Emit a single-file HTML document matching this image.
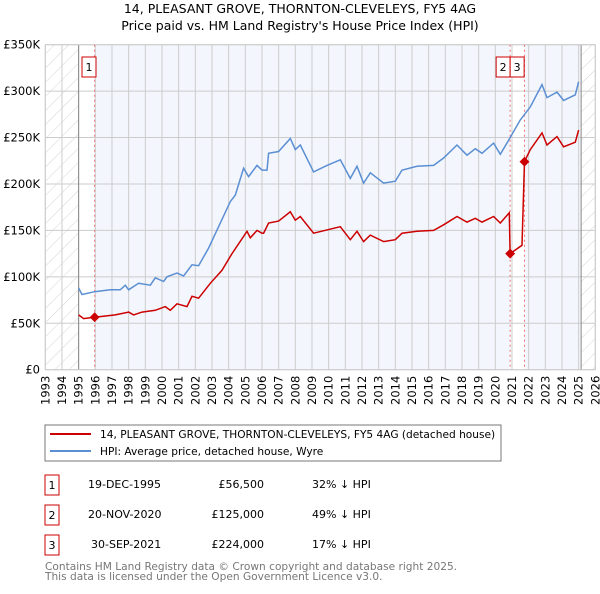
<!DOCTYPE html>
<html><head><meta charset="utf-8"><style>
body{margin:0;background:#fff;font-family:"DejaVu Sans","Liberation Sans",sans-serif;}
svg text{font-family:"DejaVu Sans","Liberation Sans",sans-serif;}
</style></head><body>
<svg id="c" width="600" height="590" xmlns="http://www.w3.org/2000/svg">
<defs><pattern id="hatch" width="10" height="10" patternUnits="userSpaceOnUse" patternTransform="rotate(45)"><line x1="0" y1="0" x2="0" y2="10" stroke="#d4d4d4" stroke-width="1"/></pattern></defs>
<text x="300" y="13" text-anchor="middle" font-size="12.5">14, PLEASANT GROVE, THORNTON-CLEVELEYS, FY5 4AG</text>
<text x="300" y="30" text-anchor="middle" font-size="12.5">Price paid vs. HM Land Registry's House Price Index (HPI)</text>
<g id="plot"></g>
<rect x="45" y="425" width="456" height="36" fill="#fff" stroke="#777"/>
<line x1="50" y1="434" x2="91" y2="434" stroke="#cc0000" stroke-width="2"/>
<text x="100" y="438" font-size="10.6">14, PLEASANT GROVE, THORNTON-CLEVELEYS, FY5 4AG (detached house)</text>
<line x1="50" y1="451" x2="91" y2="451" stroke="#5b8fd3" stroke-width="2"/>
<text x="100" y="455" font-size="10.6">HPI: Average price, detached house, Wyre</text>
<g font-size="11">
<rect x="45" y="475" width="14" height="20" fill="#fff" stroke="#cc0000"/><text x="52" y="489" text-anchor="middle">1</text>
<text x="88" y="488">19-DEC-1995</text><text x="264" y="488" text-anchor="end">£56,500</text><text x="312" y="488">32% ↓ HPI</text>
<rect x="45" y="505" width="14" height="20" fill="#fff" stroke="#cc0000"/><text x="52" y="519" text-anchor="middle">2</text>
<text x="88" y="518">20-NOV-2020</text><text x="264" y="518" text-anchor="end">£125,000</text><text x="312" y="518">49% ↓ HPI</text>
<rect x="45" y="535" width="14" height="20" fill="#fff" stroke="#cc0000"/><text x="52" y="549" text-anchor="middle">3</text>
<text x="91" y="548">30-SEP-2021</text><text x="264" y="548" text-anchor="end">£224,000</text><text x="312" y="548">17% ↓ HPI</text>
</g>
<text x="45" y="570" font-size="10.6" fill="#777">Contains HM Land Registry data © Crown copyright and database right 2025.</text>
<text x="45" y="580" font-size="10.6" fill="#777">This data is licensed under the Open Government Licence v3.0.</text>
</svg>
<script>
const yTicks=[0,50000,100000,150000,200000,250000,300000,350000];
const yTickLabels=["£0","£50K","£100K","£150K","£200K","£250K","£300K","£350K"];
const xYears=[1993,1994,1995,1996,1997,1998,1999,2000,2001,2002,2003,2004,2005,2006,2007,2008,2009,2010,2011,2012,2013,2014,2015,2016,2017,2018,2019,2020,2021,2022,2023,2024,2025,2026];
const hpiX=[1995.0,1995.2,1995.96,1996.9,1997.5,1997.8,1998.0,1998.6,1999.3,1999.6,2000.1,2000.3,2000.9,2001.3,2001.8,2002.2,2002.8,2003.4,2004.1,2004.4,2004.9,2005.2,2005.7,2006.0,2006.3,2006.4,2007.0,2007.7,2008.0,2008.3,2009.1,2009.9,2010.7,2011.3,2011.7,2012.1,2012.5,2013.3,2014.0,2014.4,2015.3,2016.3,2016.9,2017.7,2018.3,2018.8,2019.2,2019.9,2020.3,2020.8,2021.5,2022.1,2022.8,2023.1,2023.7,2024.1,2024.8,2025.0];
const hpiV=[88000,81000,84000,86000,86000,91000,86000,93000,91000,99000,95000,100000,104000,101000,113000,112000,131000,154000,181000,188000,217000,208000,220000,215000,215000,233000,235000,249000,237000,242000,213000,220000,226000,206000,219000,201000,212000,201000,203000,215000,219000,220000,228000,242000,231000,238000,233000,244000,232000,247000,269000,283000,307000,293000,299000,290000,296000,310000];
const ppX=[1995.0,1995.3,1995.96,1997.2,1998.0,1998.3,1998.8,1999.6,2000.2,2000.5,2000.9,2001.5,2001.8,2002.2,2002.9,2003.6,2004.2,2005.1,2005.3,2005.7,2006.0,2006.1,2006.4,2007.0,2007.7,2008.0,2008.3,2009.1,2010.7,2011.3,2011.7,2012.1,2012.5,2013.3,2014.0,2014.4,2015.3,2016.3,2016.9,2017.7,2018.3,2018.8,2019.2,2019.9,2020.3,2020.84,2020.89,2021.6,2021.75,2022.1,2022.8,2023.1,2023.7,2024.1,2024.8,2025.0];
const ppV=[59000,55000,56500,59000,62000,59000,62000,64000,68000,64000,71000,68000,79000,77000,93000,107000,125000,149000,142000,150000,147000,147000,158000,160000,170000,161000,165000,147000,154000,140000,149000,138000,145000,138000,140000,147000,149000,150000,156000,165000,159000,163000,159000,165000,158000,169000,125000,134000,224000,237000,255000,242000,251000,240000,245000,258000];
const saleX=[1995.96,2020.89,2021.75];
const saleV=[56500,125000,224000];
const saleLabels=["1","2","3"];
const NS="http://www.w3.org/2000/svg";
const L=45.3,R=595.3,T=44.7,B=369.7;
const xs=y=>L+(y-1993)/33*(R-L);
const ys=v=>B-v/350000*(B-T);
const g=document.getElementById('plot');
function el(t,a,p){const e=document.createElementNS(NS,t);for(const k in a)e.setAttribute(k,a[k]);(p||g).appendChild(e);return e;}
let r=el('rect',{x:L,y:T,width:R-L,height:B-T,fill:'#f3f6fd'});


el('rect',{x:xs(1995),y:T,width:xs(saleX[0])-xs(1995),height:B-T,fill:'#fff'});
el('rect',{x:xs(saleX[1]),y:T,width:xs(saleX[2])-xs(saleX[1]),height:B-T,fill:'#fff'});
el('rect',{x:L,y:T,width:xs(1995)-L,height:B-T,fill:'#fff'});
el('rect',{x:xs(2025.15),y:T,width:R-xs(2025.15),height:B-T,fill:'#fff'});
let h1=el('rect',{x:L,y:T,width:xs(1995)-L,height:B-T,fill:'url(#hatch)'});


let h2=el('rect',{x:xs(2025.15),y:T,width:R-xs(2025.15),height:B-T,fill:'url(#hatch)'});


yTicks.forEach((v,i)=>{el('line',{x1:L,x2:R,y1:ys(v),y2:ys(v),stroke:'#ccc'});
 const t=el('text',{x:40,y:ys(v)+4,'text-anchor':'end','font-size':'11.5'});t.textContent=yTickLabels[i];
 
 });
xYears.forEach(y=>{el('line',{x1:xs(y),x2:xs(y),y1:T,y2:B,stroke:'#ccc'});
 const t=el('text',{transform:`translate(${xs(y)+4},${B+6}) rotate(-90)`,'text-anchor':'end','font-size':'11.5'});t.textContent=y;
 
 });
el('line',{x1:xs(1995),x2:xs(1995),y1:T,y2:B,stroke:'#888'});
el('line',{x1:xs(2025.15),x2:xs(2025.15),y1:T,y2:B,stroke:'#888'});
el('rect',{x:L,y:T,width:R-L,height:B-T,fill:'none',stroke:'#ccc'});
saleX.forEach(x=>{const l=el('line',{x1:xs(x),x2:xs(x),y1:T,y2:B,stroke:'#f07070','stroke-dasharray':'2,3'});
 
 });
function path(X,V){return X.map((x,i)=>(i?'L':'M')+xs(x).toFixed(1)+','+ys(V[i]).toFixed(1)).join('');}
const hp=el('path',{d:path(hpiX,hpiV),fill:'none',stroke:'#5b8fd3','stroke-width':1.5});


const pp=el('path',{d:path(ppX,ppV),fill:'none',stroke:'#cc0000','stroke-width':1.5});


saleX.forEach((x,i)=>{const d=el('rect',{x:xs(x)-3.5,y:ys(saleV[i])-3.5,width:7,height:7,fill:'#cc0000',transform:`rotate(45 ${xs(x)} ${ys(saleV[i])})`});
 
 });
const boxX=[xs(saleX[0])-4-14,xs(saleX[1])-14,xs(saleX[2])-14];
saleLabels.forEach((s,i)=>{const bx=(i==0)?82:(i==1?boxX[1]:boxX[1]+14);
 const b=el('rect',{x:bx,y:57,width:14,height:20,fill:'#fff',stroke:'#cc0000'});
 
 
 const t=el('text',{x:bx+7,y:71,'text-anchor':'middle','font-size':'11'});t.textContent=s;});
</script>
</body></html>
